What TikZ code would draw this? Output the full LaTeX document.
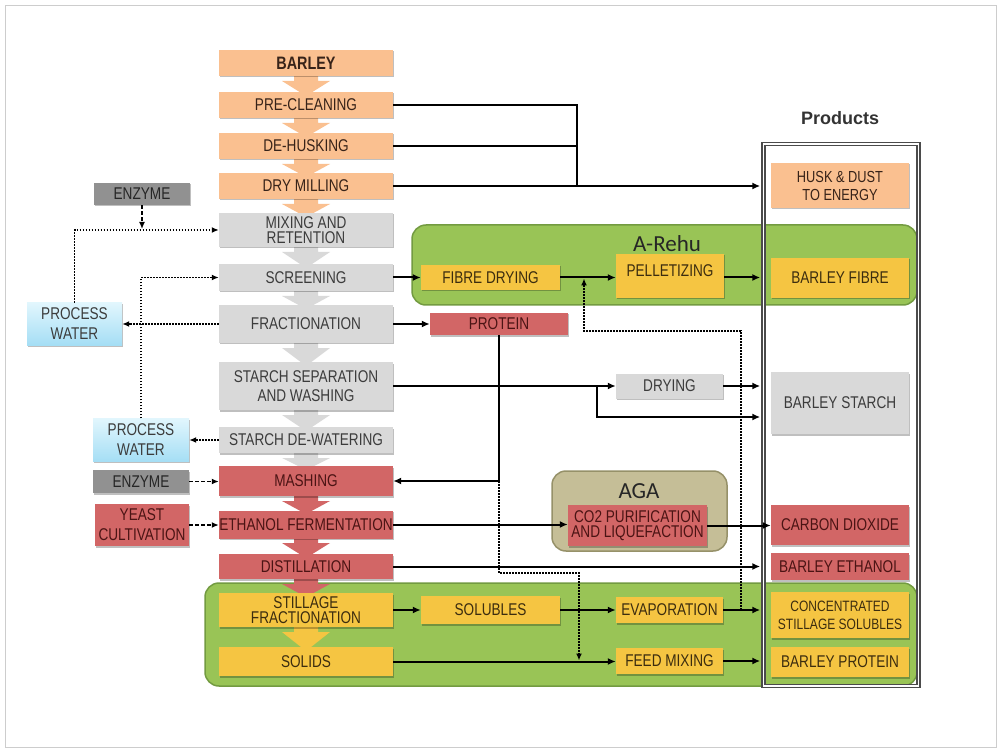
\documentclass[tikz,border=0pt]{standalone}
\usepackage{fontspec}
\setmainfont{Liberation Sans}
\newfontfamily\narrow{Liberation Sans}[FakeStretch=0.8]
\newfontfamily\calibrifont{Carlito}
\usetikzlibrary{arrows.meta,shadows}
\newcommand\fs[2]{\fontsize{#1}{#2}\selectfont}
\definecolor{cOr}{RGB}{250,192,144}
\definecolor{cGr}{RGB}{217,217,217}
\definecolor{cRd}{RGB}{210,102,102}
\definecolor{cYl}{RGB}{245,197,66}
\definecolor{cEn}{RGB}{145,145,145}
\definecolor{cGn}{RGB}{153,196,86}
\definecolor{bGn}{RGB}{115,155,65}
\definecolor{cTan}{RGB}{197,190,151}
\definecolor{bTan}{RGB}{150,145,105}
\definecolor{wTop}{RGB}{225,246,253}
\definecolor{wBot}{RGB}{165,222,245}
\definecolor{tOr}{RGB}{55,35,25}
\definecolor{tGr}{RGB}{60,60,60}
\definecolor{tRd}{RGB}{75,20,20}
\definecolor{tYl}{RGB}{60,45,15}
\definecolor{frameGray}{RGB}{75,75,75}
\definecolor{slideGray}{RGB}{205,205,205}
\begin{document}
\begin{tikzpicture}[x=1pt,y=-1pt,
  box/.style={rectangle, inner sep=0pt, align=center, font=\narrow\fs{17}{15.5},
    drop shadow={shadow xshift=1pt, shadow yshift=-1.5pt, opacity=0.25, fill=black}},
  orbox/.style={box, fill=cOr, text=tOr},
  grbox/.style={box, fill=cGr, text=tGr},
  rdbox/.style={box, fill=cRd, text=tRd},
  ylbox/.style={box, fill=cYl, text=tYl},
  enbox/.style={box, fill=cEn, text=black!85},
  wtbox/.style={box, top color=wTop, bottom color=wBot, text=tGr, font=\narrow\fs{17}{20}},
  mainbox/.style={minimum width=174pt},
  prodbox/.style={minimum width=138pt},
  conn/.style={line width=2pt, draw=black},
  arr/.style={conn, -{Latex[length=8pt,width=7pt]}},
  dotl/.style={line width=1.6pt, dash pattern=on 1.6pt off 1.4pt},
  dotarr/.style={dotl, -{Latex[length=7pt,width=6pt]}},
  dsharr/.style={line width=1.6pt, dash pattern=on 3.5pt off 2.5pt, -{Latex[length=7pt,width=6pt]}},
  container/.style={line width=1.5pt, rounded corners=14pt}
]
\useasboundingbox (0,0) rectangle (1002,754);
\fill[white] (0,0) rectangle (1002,754);
\draw[slideGray, line width=1pt] (5,6) rectangle (996,747);

% containers
\path[container, draw=bGn, fill=cGn] (412,225) rectangle (917,305);
\path[container, draw=bGn, fill=cGn] (205,583) rectangle (917,686);
\path[container, draw=bTan, fill=cTan] (552,471) rectangle (727,551);
\node[font=\calibrifont\fs{23}{23}, text=black!85] (arehulbl) at (667,244) {A-Rehu};
\node[font=\calibrifont\fs{23}{23}, text=black!85] (agalbl) at (639,491) {AGA};

% chevron arrows in the main column
\newcommand\chevron[3]{% color, upper bottom y, lower top y
  \fill[#1] (294,#2-3) -- (294,#2+5) -- (282,#2+5) -- (306,#3+4) -- (330,#2+5) -- (318,#2+5) -- (318,#2-3) -- cycle;}
\chevron{cOr}{76}{92}
\chevron{cOr}{118}{133}
\chevron{cOr}{159}{173}
\chevron{cOr}{199}{213}
\chevron{cGr}{247}{264}
\chevron{cGr}{291}{305}
\chevron{cGr}{343}{362}
\chevron{cGr}{410}{427}
\chevron{cGr}{453}{466}
\chevron{cRd}{496}{510}
\chevron{cRd}{538}{554}
\chevron{cRd}{579}{593}
\chevron{cYl}{627}{647}

% main column
\node[orbox, mainbox, minimum height=26pt, font=\narrow\bfseries\fs{18}{18}] (barley) at (306,63) {BARLEY};
\node[orbox, mainbox, minimum height=26pt] (precleaning) at (306,105) {PRE-CLEANING};
\node[orbox, mainbox, minimum height=26pt] (dehusking) at (306,146) {DE-HUSKING};
\node[orbox, mainbox, minimum height=26pt] (drymilling) at (306,186) {DRY MILLING};
\node[grbox, mainbox, minimum height=34pt, font=\narrow\fs{17}{15.5}] (mixing) at (306,230) {MIXING AND\\RETENTION};
\node[grbox, mainbox, minimum height=27pt] (screening) at (306,277.5) {SCREENING};
\node[grbox, mainbox, minimum height=37pt] (fractionation) at (306,324) {FRACTIONATION};
\node[grbox, mainbox, minimum height=48pt, font=\narrow\fs{17}{19}] (starchsep) at (306,386) {STARCH SEPARATION\\AND WASHING};
\node[grbox, mainbox, minimum height=26pt] (dewatering) at (306,440) {STARCH DE-WATERING};
\node[rdbox, mainbox, minimum height=30pt] (mashing) at (306,481) {MASHING};
\node[rdbox, mainbox, minimum height=28pt] (fermentation) at (306,524.5) {ETHANOL FERMENTATION};
\node[rdbox, mainbox, minimum height=25pt] (distillation) at (306,566.5) {DISTILLATION};
\node[ylbox, mainbox, minimum height=34pt, font=\narrow\fs{17}{15.5}] (stillage) at (306,610) {STILLAGE\\FRACTIONATION};
\node[ylbox, mainbox, minimum height=29pt] (solids) at (306,661.5) {SOLIDS};

% left column
\node[enbox, minimum width=96pt, minimum height=22pt] (enzymeA) at (142,194) {ENZYME};
\node[wtbox, minimum width=95pt, minimum height=42pt] (waterA) at (74.5,324) {PROCESS\\WATER};
\node[wtbox, minimum width=96pt, minimum height=43pt] (waterB) at (141,440) {PROCESS\\WATER};
\node[enbox, minimum width=96pt, minimum height=23pt] (enzymeB) at (141,481.5) {ENZYME};
\node[rdbox, minimum width=94pt, minimum height=42pt, font=\narrow\fs{17}{20}] (yeast) at (142,525) {YEAST\\CULTIVATION};

% intermediate boxes
\node[ylbox, minimum width=139pt, minimum height=25pt] (fibredrying) at (490.5,277.5) {FIBRE DRYING};
\node[ylbox, minimum width=108pt, minimum height=44pt, text height=12pt, text depth=11pt] (pelletizing) at (670,276) {PELLETIZING};
\node[rdbox, minimum width=138pt, minimum height=22pt] (protein) at (499,324) {PROTEIN};
\node[grbox, minimum width=107pt, minimum height=25pt] (drying) at (669.5,386) {DRYING};
\node[rdbox, minimum width=139pt, minimum height=41pt, font=\narrow\fs{17}{15.5}] (co2) at (637.5,525.5) {CO2 PURIFICATION\\AND LIQUEFACTION};
\node[ylbox, minimum width=139pt, minimum height=28pt] (solubles) at (490.5,610) {SOLUBLES};
\node[ylbox, minimum width=107pt, minimum height=26pt] (evaporation) at (669.5,610) {EVAPORATION};
\node[ylbox, minimum width=107pt, minimum height=26pt] (feedmixing) at (669.5,661) {FEED MIXING};

% products
\node[font=\bfseries\fs{18}{18}, text=black!80] (prodtitle) at (840,118) {Products};
\node[orbox, prodbox, minimum height=45pt, font=\narrow\fs{16}{18}] (husk) at (840,185.5) {HUSK \& DUST\\TO ENERGY};
\node[ylbox, prodbox, minimum height=40pt] (fibre) at (840,278) {BARLEY FIBRE};
\node[grbox, prodbox, minimum height=62pt] (starch) at (840,403) {BARLEY STARCH};
\node[rdbox, prodbox, minimum height=40pt] (cdioxide) at (840,525) {CARBON DIOXIDE};
\node[rdbox, prodbox, minimum height=27pt] (ethanol) at (840,566.5) {BARLEY ETHANOL};
\node[ylbox, prodbox, minimum height=46pt, font=\narrow\fs{15}{18}] (css) at (840,615) {CONCENTRATED\\STILLAGE SOLUBLES};
\node[ylbox, prodbox, minimum height=30pt] (bprotein) at (840,662) {BARLEY PROTEIN};

\node[draw=frameGray, line width=1.5pt, double=white, double distance=1.3pt,
      minimum width=155pt, minimum height=542pt, inner sep=0pt] (frame) at (841,415) {};

% junction coordinates
\coordinate (hj) at (577,0);
\coordinate (sjl) at (597,417);
\coordinate (pj) at (499,481);
\coordinate (fx) at (579,573);
\coordinate (dj) at (741,331);
\coordinate (pa) at (584,331);

% solid connectors
\draw[conn] (precleaning.east) -- (precleaning.east -| hj) -- (drymilling.east -| hj);
\draw[conn] (dehusking.east) -- (dehusking.east -| hj);
\draw[arr, shorten >=2.5pt] (drymilling.east) -- (drymilling.east -| frame.west);
\draw[arr] (screening.east) -- (screening.east -| fibredrying.west);
\draw[arr] (fibredrying.east) -- (fibredrying.east -| pelletizing.west);
\draw[arr, shorten >=2.5pt] (pelletizing.east |- fibredrying.east) -- (fibredrying.east -| frame.west);
\draw[arr] (fractionation.east) -- (fractionation.east -| protein.west);
\draw[arr] (protein.south) -- (pj) -- (mashing.east);
\draw[arr] (starchsep.east) -- (drying.west);
\draw[arr, shorten >=2.5pt] (starchsep.east -| sjl) -- (sjl) -- (sjl -| frame.west);
\draw[arr, shorten >=2.5pt] (drying.east) -- (drying.east -| frame.west);
\draw[arr] (fermentation.east) -- (fermentation.east -| co2.west);
\draw[arr] (co2.east) -- (co2.east -| cdioxide.west);
\draw[arr, shorten >=2.5pt] (distillation.east) -- (distillation.east -| frame.west);
\draw[arr] (stillage.east) -- (stillage.east -| solubles.west);
\draw[arr] (solubles.east) -- (evaporation.west);
\draw[arr, shorten >=2.5pt] (evaporation.east) -- (evaporation.east -| frame.west);
\draw[arr] (solids.east) -- (solids.east -| feedmixing.west);
\draw[arr, shorten >=2.5pt] (feedmixing.east) -- (feedmixing.east -| frame.west);

% dotted connectors
\draw[dotarr, shorten >=1pt] (evaporation.east -| dj) -- (dj) -- (pa) -- (pa |- fibredrying.east);
\draw[dotarr, shorten >=1pt] (pj) -- (pj |- fx) -- (fx) -- (fx |- solids.east);
\draw[dotarr] (waterA.north) -- (waterA.north |- mixing.west) -- (mixing.west);
\draw[dotarr] (waterB.north) -- (waterB.north |- screening.west) -- (screening.west);
\draw[dotarr] (fractionation.west) -- (fractionation.west -| waterA.east);
\draw[dotarr] (dewatering.west) -- (dewatering.west -| waterB.east);

% dashed connectors
\draw[dsharr, shorten >=1pt] (enzymeA.south) -- (enzymeA.south |- mixing.west);
\draw[dsharr] (enzymeB.east) -- (enzymeB.east -| mashing.west);
\draw[dsharr] (yeast.east) -- (yeast.east -| fermentation.west);
\end{tikzpicture}
\end{document}
